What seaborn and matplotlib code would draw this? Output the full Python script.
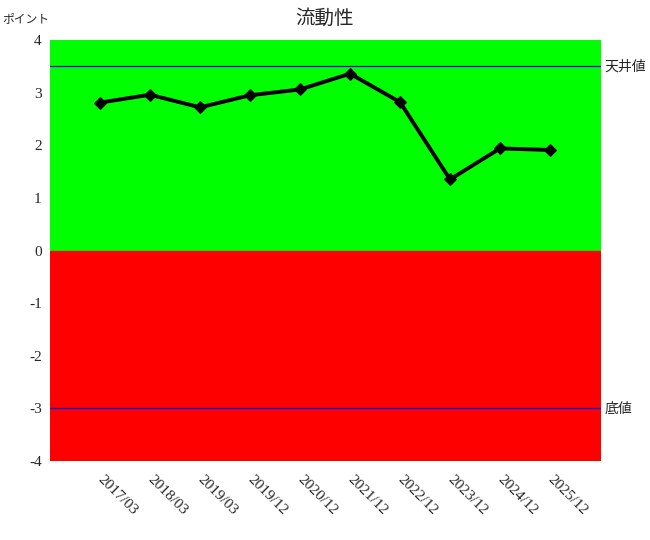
import pandas as pd
import matplotlib.pyplot as plt
import seaborn as sns
from matplotlib.transforms import ScaledTranslation

# データ
periods = ['2017/03', '2018/03', '2019/03', '2019/12', '2020/12',
           '2021/12', '2022/12', '2023/12', '2024/12', '2025/12']
points = [2.81, 2.96, 2.72, 2.95, 3.06, 3.36, 2.82, 1.35, 1.94, 1.91]
ceiling = 3.5
floor = -3.0
y_ticks = [-4, -3, -2, -1, 0, 1, 2, 3, 4]

df = pd.DataFrame({'period': periods, 'point': points})
df['pos'] = range(len(df))

sns.set_style('white')
plt.rcParams['font.family'] = ['Liberation Serif', 'Noto Sans CJK JP', 'DejaVu Sans']
jp = ['Noto Sans CJK JP', 'DejaVu Sans']

fig = plt.figure(figsize=(6.5, 5.4), dpi=100)
ax = fig.add_axes([50 / 650, 1 - 461 / 540, 551 / 650, 421 / 540])

# 背景（プラス領域は緑、マイナス領域は赤）
ax.axhspan(0, 4, color='#00ff00', zorder=0)
ax.axhspan(-4, 0, color='#ff0000', zorder=0)

ax.axhline(ceiling, color='blue', lw=0.9, zorder=1)
ax.axhline(floor, color='blue', lw=0.9, zorder=1)

sns.lineplot(data=df, x='pos', y='point', ax=ax, color='black', lw=2.8,
             marker='D', markersize=6, markeredgecolor='black', zorder=3)

ax.set_xlim(-1, 10.02)
ax.set_ylim(-4, 4)
ax.set_xticks(df['pos'])
ax.set_xticklabels(periods, rotation=-45, ha='left', va='center',
                   rotation_mode='anchor', fontsize=11)
shift = ScaledTranslation(4 / 100, 0, fig.dpi_scale_trans)
for lab in ax.get_xticklabels():
    lab.set_transform(lab.get_transform() + shift)
ax.set_yticks(y_ticks)
ax.set_yticklabels([str(t) for t in y_ticks], fontsize=11)
ax.tick_params(axis='both', length=0)
ax.tick_params(axis='x', pad=12)
ax.tick_params(axis='y', pad=6)
ax.set_xlabel('')
ax.set_ylabel('')
for s in ax.spines.values():
    s.set_visible(False)

ax.text(1.007, ceiling, '天井値', transform=ax.get_yaxis_transform(),
        va='center', ha='left', fontsize=10, family=jp)
ax.text(1.007, floor, '底値', transform=ax.get_yaxis_transform(),
        va='center', ha='left', fontsize=10, family=jp)

fig.text(2 / 650, 1 - 19 / 540, 'ポイント', fontsize=8.5, family=jp, va='center', ha='left')
fig.text(0.5, 1 - 18 / 540, '流動性', fontsize=14, family=jp, va='center', ha='center')

plt.savefig('out.png', dpi=100)
